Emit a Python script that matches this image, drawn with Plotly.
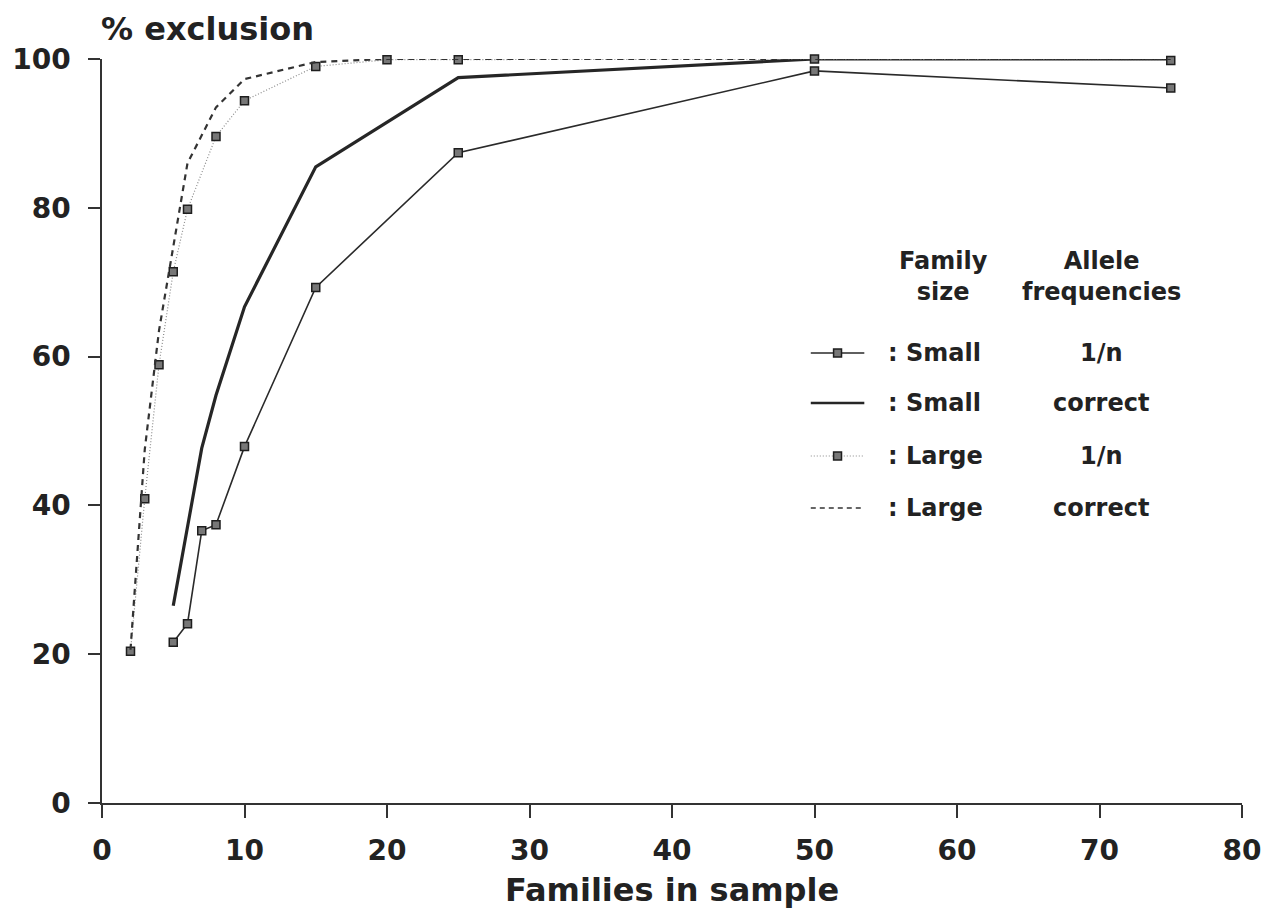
import plotly.graph_objects as go

# ---- data ----
small_x = [5, 6, 7, 8, 10, 15, 25, 50, 75]
small_1n = [21.6, 24.1, 36.6, 37.4, 47.9, 69.3, 87.4, 98.4, 96.1]
small_correct = [26.5, 37.3, 47.7, 54.8, 66.7, 85.5, 97.5, 100, 100]

large_x = [2, 3, 4, 5, 6, 8, 10, 15, 20, 25, 50, 75]
large_1n = [20.4, 40.9, 58.9, 71.4, 79.8, 89.6, 94.4, 99.0, 99.9, 99.9, 100, 99.8]
large_correct = [20.6, 47.5, 63.5, 74.5, 86.0, 93.5, 97.3, 99.6, 100, 100, 100, 100]

x_ticks = [0, 10, 20, 30, 40, 50, 60, 70, 80]
y_ticks = [0, 20, 40, 60, 80, 100]

legend_rows = [": Small", ": Small", ": Large", ": Large"]
legend_freq = ["1/n", "correct", "1/n", "correct"]

# ---- layout geometry (pixels) ----
W, H = 1273, 911
L, R, T, B = 98, 1248, 59, 803

def px(xp):
    return (xp - L) / (R - L)

def py(yp):
    return (B - yp) / (B - T)

FONT = "DejaVu Sans"
INK = "#222222"

mk = dict(symbol="square", size=8, color="#777777", line=dict(color="#1e1e1e", width=1.5))

fig = go.Figure()
fig.add_trace(go.Scatter(x=small_x, y=small_1n, mode="lines+markers",
                         line=dict(color="#2a2a2a", width=1.6), marker=mk,
                         cliponaxis=False, showlegend=False))
fig.add_trace(go.Scatter(x=small_x, y=small_correct, mode="lines",
                         line=dict(color="#262626", width=3.2),
                         cliponaxis=False, showlegend=False))
fig.add_trace(go.Scatter(x=large_x, y=large_1n, mode="lines+markers",
                         line=dict(color="#8a8a8a", width=1.2, dash="1px,2px"), marker=mk,
                         cliponaxis=False, showlegend=False))
fig.add_trace(go.Scatter(x=large_x, y=large_correct, mode="lines",
                         line=dict(color="#333333", width=2.2, dash="6px,5px"),
                         cliponaxis=False, showlegend=False))

# ---- custom legend ----
row_y = [353, 403, 456, 508]
styles = [
    dict(color="#2a2a2a", width=1.4, dash="solid"),
    dict(color="#262626", width=2.6, dash="solid"),
    dict(color="#8a8a8a", width=1.2, dash="1px,2px"),
    dict(color="#333333", width=1.4, dash="5px,4px"),
]
has_marker = [True, False, True, False]
shapes = []
annotations = []
for i, yy in enumerate(row_y):
    shapes.append(dict(type="line", xref="paper", yref="paper",
                       x0=px(813), x1=px(867), y0=py(yy), y1=py(yy),
                       line=styles[i]))
    if has_marker[i]:
        shapes.append(dict(type="rect", xref="paper", yref="paper",
                           x0=px(836), x1=px(844), y0=py(yy + 4), y1=py(yy - 4),
                           fillcolor="#777777", line=dict(color="#1e1e1e", width=1.5)))
    annotations.append(dict(xref="paper", yref="paper", x=px(889), y=py(yy),
                            xanchor="left", yanchor="middle", showarrow=False,
                            text=legend_rows[i],
                            font=dict(family=FONT, size=24, color=INK, weight="bold")))
    annotations.append(dict(xref="paper", yref="paper", x=px(1106), y=py(yy),
                            xanchor="center", yanchor="middle", showarrow=False,
                            text=legend_freq[i],
                            font=dict(family=FONT, size=24, color=INK, weight="bold")))

annotations.append(dict(xref="paper", yref="paper", x=px(947), y=py(276),
                        xanchor="center", yanchor="middle", showarrow=False,
                        text="Family<br>size",
                        font=dict(family=FONT, size=24, color=INK, weight="bold")))
annotations.append(dict(xref="paper", yref="paper", x=px(1106), y=py(276),
                        xanchor="center", yanchor="middle", showarrow=False,
                        text="Allele<br>frequencies",
                        font=dict(family=FONT, size=24, color=INK, weight="bold")))

# titles
annotations.append(dict(xref="paper", yref="paper", x=px(95), y=py(29),
                        xanchor="left", yanchor="middle", showarrow=False,
                        text="% exclusion",
                        font=dict(family=FONT, size=32, color=INK, weight="bold")))
annotations.append(dict(xref="paper", yref="paper", x=0.5, y=py(890),
                        xanchor="center", yanchor="middle", showarrow=False,
                        text="Families in sample",
                        font=dict(family=FONT, size=32, color=INK, weight="bold")))

fig.update_layout(
    width=W, height=H,
    margin=dict(l=L, r=W - R, t=T, b=H - B, pad=0),
    paper_bgcolor="white", plot_bgcolor="white",
    shapes=shapes, annotations=annotations,
    showlegend=False,
    xaxis=dict(range=[0, 80], tickvals=x_ticks, ticktext=[str(v) for v in x_ticks],
               showgrid=False, zeroline=False, showline=True, linecolor="#333333", linewidth=1.5,
               ticks="outside", ticklen=13, tickwidth=1.5, tickcolor="#333333",
               ticklabelstandoff=9,
               tickfont=dict(family=FONT, size=28, color=INK, weight="bold")),
    yaxis=dict(range=[0, 100], tickvals=y_ticks, ticktext=[str(v) for v in y_ticks],
               showgrid=False, zeroline=False, showline=True, linecolor="#333333", linewidth=1.5,
               ticks="outside", ticklen=12, tickwidth=1.5, tickcolor="#333333",
               ticklabelstandoff=12,
               tickfont=dict(family=FONT, size=28, color=INK, weight="bold")),
)

fig.write_html("out.html", config={"displayModeBar": False},
               post_script="document.body.style.margin='0';document.body.style.overflow='hidden';")
